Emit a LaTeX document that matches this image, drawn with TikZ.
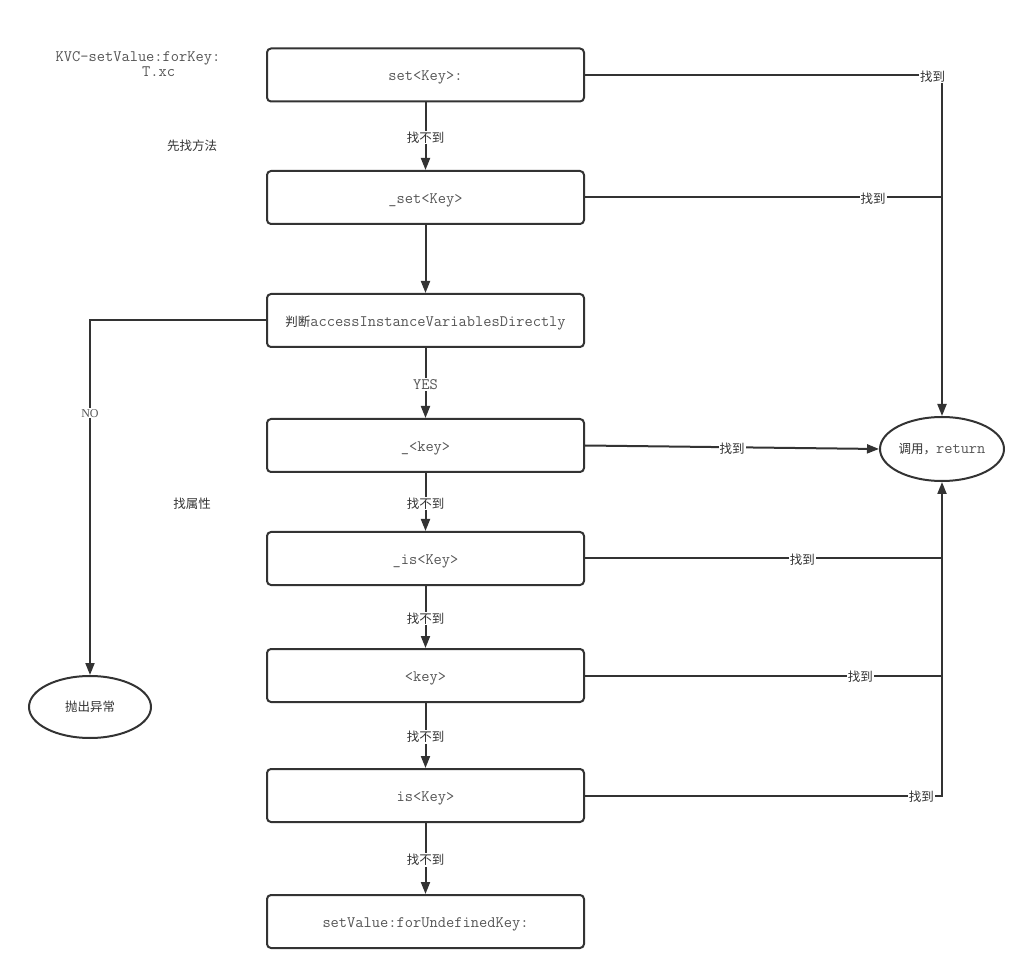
\documentclass[tikz,border=0pt]{standalone}
\usepackage{fontspec}
\setmainfont{Liberation Serif}
\newfontfamily\cjk{Noto Sans CJK SC}
\usetikzlibrary{arrows.meta, shapes.geometric, positioning}

\definecolor{linegray}{HTML}{333333}
\definecolor{textgray}{HTML}{555555}

\newcommand{\mono}[1]{{\ttfamily\fontsize{16}{19}\selectfont\color{textgray}#1}}
\newcommand{\zh}[1]{{\cjk\fontsize{12.5}{15}\selectfont\color{linegray}#1}}

\begin{document}
\begin{tikzpicture}[x=1pt, y=-1pt, line width=2pt,
    stepbox/.style={draw=linegray, rounded corners=4pt, minimum width=317pt, minimum height=53pt, inner sep=0pt, text height=12pt, text depth=0pt},
    endnode/.style={draw=linegray, ellipse, inner sep=0pt},
    arr/.style={draw=linegray, -{Triangle[length=12pt, width=9pt]}},
    lnk/.style={draw=linegray},
    lbl/.style={fill=white, inner sep=1pt, yshift=-1.5pt}]
        \useasboundingbox (0,0) rectangle (1029,973);

        % Notes
        \node[align=center] (title) at (138,64) {\mono{KVC-setValue:forKey:}\\\mono{\hphantom{aaaaa}T.xc}};
        \node (method) at (192,146) {\zh{先找方法}};
        \node (field) at (192,504) {\zh{找属性}};

        % Boxes
        \node[stepbox] (b1) at (425.5,75) {\mono{set<Key>:}};
        \node[stepbox] (b2) at (425.5,197.5) {\mono{\_set<Key>}};
        \node[stepbox] (b3) at (425.5,320.5) {\zh{判断}\mono{accessInstanceVariablesDirectly}};
        \node[stepbox] (b4) at (425.5,445.5) {\mono{\_<key>}};
        \node[stepbox] (b5) at (425.5,558.5) {\mono{\_is<Key>}};
        \node[stepbox] (b6) at (425.5,675.5) {\mono{<key>}};
        \node[stepbox] (b7) at (425.5,795.5) {\mono{is<Key>}};
        \node[stepbox] (b8) at (425.5,921.5) {\mono{setValue:forUndefinedKey:}};

        % Ends
        \node[endnode, minimum width=124pt, minimum height=64pt] (ret) at (942,449) {\zh{调用，}\mono{return}};
        \node[endnode, minimum width=122pt, minimum height=62pt] (exc) at (90,707) {\zh{抛出异常}};

        % Down the middle
        \draw[arr] (b1) -- node[lbl] {\zh{找不到}} (b2);
        \draw[arr] (b2) -- (b3);
        \draw[arr] (b3) -- node[lbl] {\mono{YES}} (b4);
        \draw[arr] (b4) -- node[lbl] {\zh{找不到}} (b5);
        \draw[arr] (b5) -- node[lbl] {\zh{找不到}} (b6);
        \draw[arr] (b6) -- node[lbl] {\zh{找不到}} (b7);
        \draw[arr] (b7) -- node[lbl] {\zh{找不到}} (b8);

        % NO branch
        \draw[arr] (b3.west) -| node[lbl, pos=0.629] {{\fontsize{12}{14}\selectfont\color{textgray}NO}} (exc.north);

        % Found branches
        \draw[arr] (b1.east) -| node[lbl, pos=0.487] {\zh{找到}} (ret.north);
        \draw[lnk] (b2.east) -- node[lbl, pos=0.807] {\zh{找到}} (b2.east -| ret.north);
        \draw[arr] (b4.east) -- node[lbl] {\zh{找到}} (ret.west);
        \draw[lnk] (b5.east) -- node[lbl, pos=0.609] {\zh{找到}} (b5.east -| ret.south);
        \draw[lnk] (b6.east) -- node[lbl, pos=0.771] {\zh{找到}} (b6.east -| ret.south);
        \draw[arr] (b7.east) -| node[lbl, pos=0.471] {\zh{找到}} (ret.south);

    \end{tikzpicture}
\end{document}
